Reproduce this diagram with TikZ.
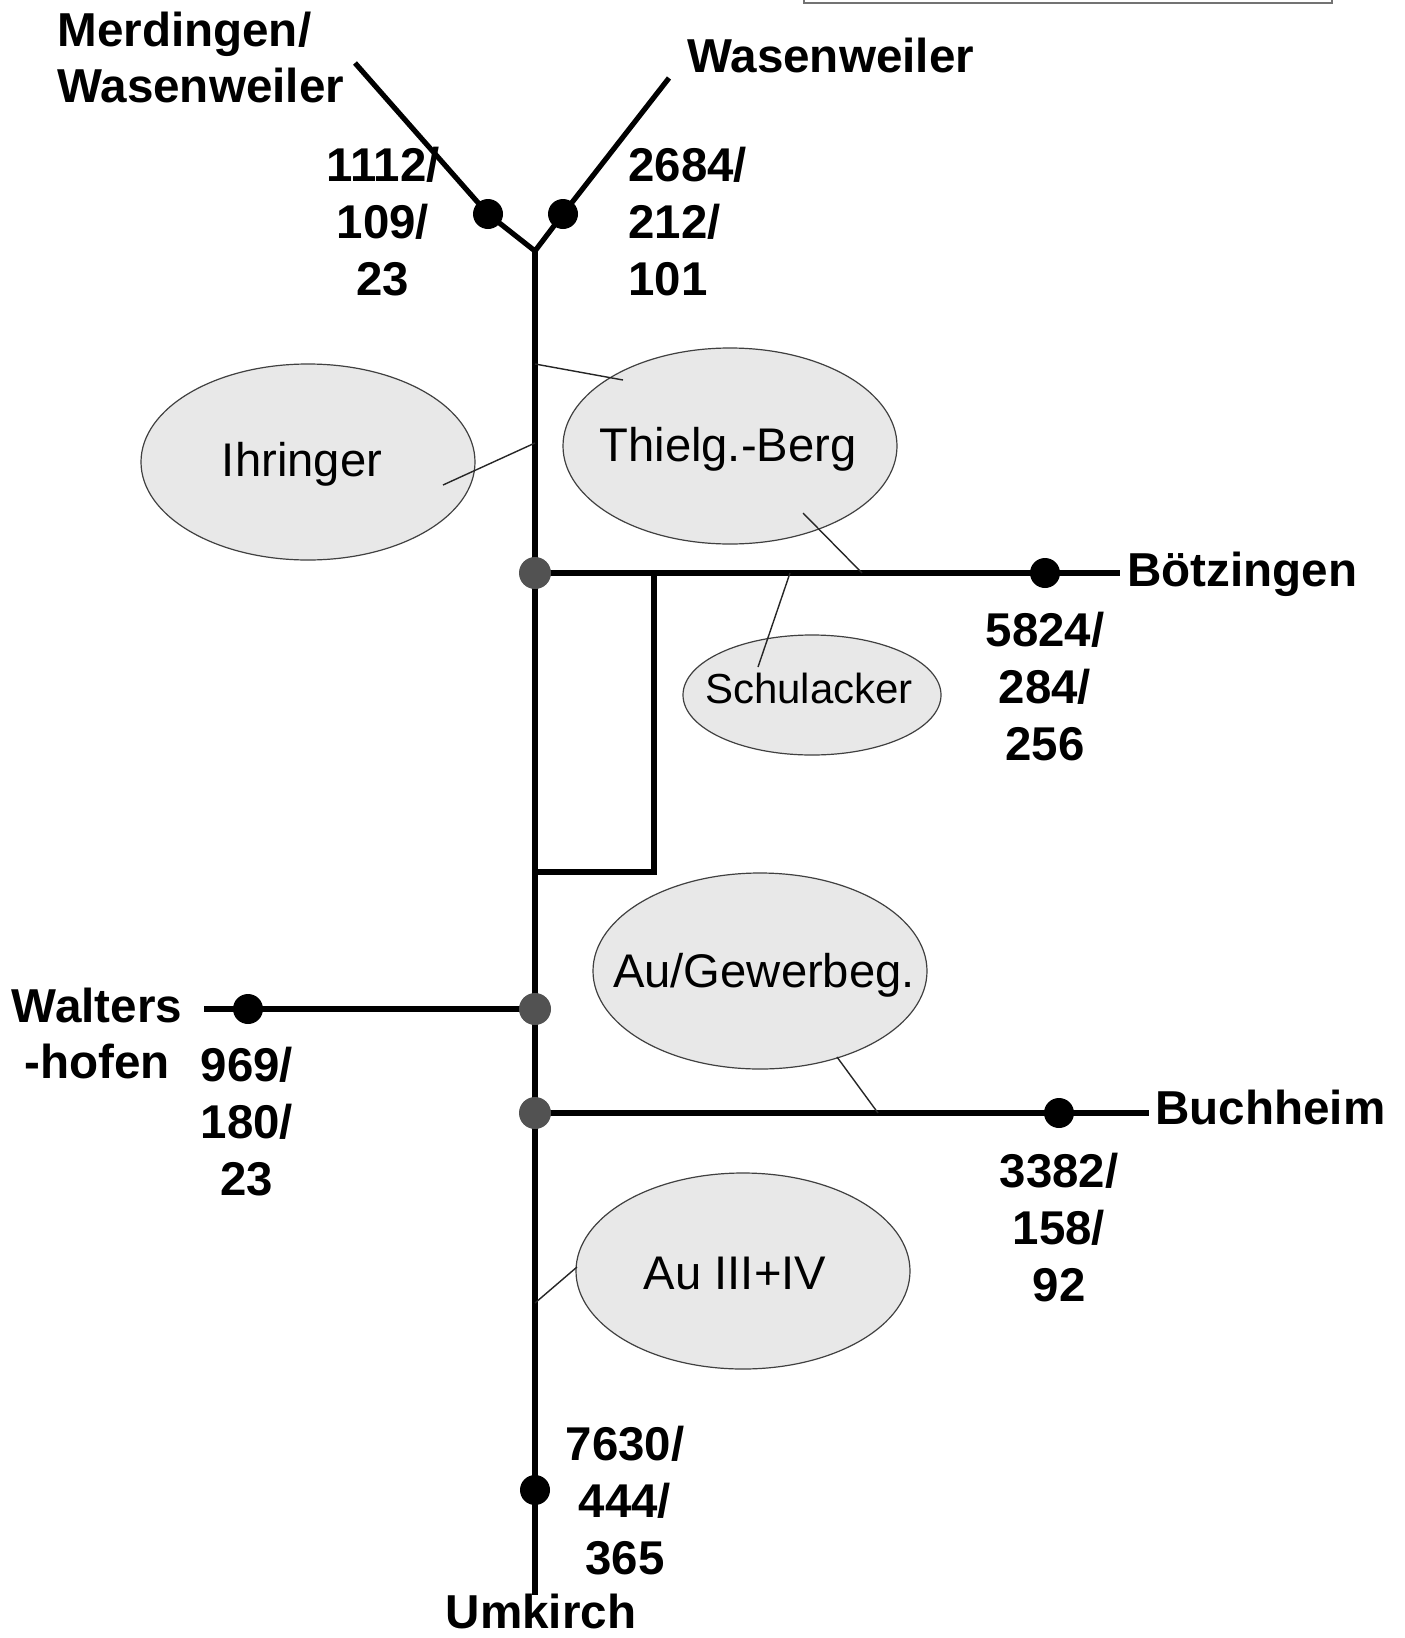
\documentclass[tikz,border=0pt]{standalone}
\usepackage{fontspec}
\setmainfont{Liberation Sans}
\usetikzlibrary{shapes.geometric}
\begin{document}
\begin{tikzpicture}[x=0.5pt,y=-0.5pt,
  track/.style={line width=2.6pt},
  thinline/.style={line width=0.7pt, draw=black!85},
  area/.style={ellipse, draw=black!75, line width=0.6pt, fill=black!9, inner sep=0pt},
  areatext/.style={font=\fontsize{23.6}{28}\selectfont, inner sep=0pt, anchor=center},
  place/.style={font=\fontsize{23.8}{28}\selectfont\bfseries, inner sep=0pt},
  nums/.style={font=\fontsize{23.7}{28.5}\selectfont\bfseries, align=center, inner sep=0pt},
  bdot/.style={circle, fill=black, inner sep=0pt, minimum size=15pt},
  jdot/.style={circle, fill=black!68, inner sep=0pt, minimum size=16pt},
]
\useasboundingbox (0,0) rectangle (1404,1638);
\fill[white] (0,0) rectangle (1404,1638);

% partial box at the top
\draw[black!55, line width=1.2pt] (804,-20) rectangle (1332,3);

% coordinates
\coordinate (Y) at (535,251);
\coordinate (mwEnd) at (355,63);
\coordinate (mwDotC) at (488,214);
\coordinate (wEnd) at (669,78);
\coordinate (wDotC) at (563,214);
\coordinate (bottom) at (535,1595);
\coordinate (jBC) at (535,573);
\coordinate (jWC) at (535,1009);
\coordinate (jBuC) at (535,1113);
\coordinate (uDotC) at (535,1490);
\coordinate (bEnd) at (1120,573);
\coordinate (bDotC) at (1045,573);
\coordinate (loopT) at (654,573);
\coordinate (loopB) at (654,872);
\coordinate (loopL) at (535,872);
\coordinate (wsEnd) at (204,1009);
\coordinate (wsDotC) at (248,1009);
\coordinate (buEnd) at (1149,1113);
\coordinate (buDotC) at (1059,1113);

% ellipses
\node[area, minimum width=167pt, minimum height=98pt] (ihr) at (308,462) {};
\node[area, minimum width=167pt, minimum height=98pt] (thiel) at (730,446) {};
\node[area, minimum width=129pt, minimum height=60pt] (schul) at (812,695) {};
\node[area, minimum width=167pt, minimum height=98pt] (augew) at (760,971) {};
\node[area, minimum width=167pt, minimum height=98pt] (au34) at (743,1271) {};

\node[areatext] (ihrT) at (302,464) {Ihringer};
\node[areatext] (thielT) at (728,449) {Thielg.-Berg};
\node[areatext, font=\fontsize{21}{25}\selectfont] (schulT) at (809,688) {Schulacker};
\node[areatext] (augewT) at (764,975) {Au/Gewerbeg.};
\node[areatext] (au34T) at (735,1273) {Au III+IV};

% tracks
\draw[track] (mwEnd) -- (mwDotC) -- (Y) -- (wDotC) -- (wEnd);
\draw[track] (Y) -- (bottom);
\draw[track] (jBC) -- (bEnd);
\draw[track] (loopT) -- (loopB) -- (loopL);
\draw[track] (wsEnd) -- (jWC);
\draw[track] (jBuC) -- (buEnd);

% thin connectors
\coordinate (c1a) at (535,364); \coordinate (c1b) at (623,380);
\coordinate (c2a) at (535,443); \coordinate (c2b) at (443,485);
\coordinate (c3a) at (803,513); \coordinate (c3b) at (862,573);
\coordinate (c4a) at (790,573); \coordinate (c4b) at (758,667);
\coordinate (c5a) at (837,1057); \coordinate (c5b) at (878,1113);
\coordinate (c6a) at (535,1303); \coordinate (c6b) at (577,1267);
\draw[thinline] (c1a) -- (c1b);
\draw[thinline] (c2a) -- (c2b);
\draw[thinline] (c3a) -- (c3b);
\draw[thinline] (c4a) -- (c4b);
\draw[thinline] (c5a) -- (c5b);
\draw[thinline] (c6a) -- (c6b);

% dots
\node[bdot] (mwDot) at (mwDotC) {};
\node[bdot] (wDot) at (wDotC) {};
\node[bdot] (bDot) at (bDotC) {};
\node[bdot] (wsDot) at (wsDotC) {};
\node[bdot] (buDot) at (buDotC) {};
\node[bdot] (uDot) at (uDotC) {};
\node[jdot] (jB) at (jBC) {};
\node[jdot] (jW) at (jWC) {};
\node[jdot] (jBu) at (jBuC) {};

% place names
\node[place, anchor=north west, align=left] (merd) at (57,12) {Merdingen/\\Wasenweiler};
\node[place, anchor=base west] (wasen) at (687,72) {Wasenweiler};
\node[place, anchor=base west] (boetz) at (1127,586) {Bötzingen};
\node[place, anchor=base west] (buch) at (1155,1124) {Buchheim};
\node[place, anchor=north, align=center] (walt) at (97,988) {Walters\\-hofen};
\node[place, anchor=base] (umk) at (541,1628) {Umkirch};

% numbers
\node[nums] (n1) at (383,222) {1112/\\109/\\23};
\node[nums, anchor=west, align=left] (n2) at (628,222) {2684/\\212/\\101};
\node[nums] (n3) at (1045,687) {5824/\\284/\\256};
\node[nums] (n4) at (247,1122) {969/\\180/\\23};
\node[nums] (n5) at (1059,1228) {3382/\\158/\\92};
\node[nums] (n6) at (625,1501) {7630/\\444/\\365};
\end{tikzpicture}
\end{document}
